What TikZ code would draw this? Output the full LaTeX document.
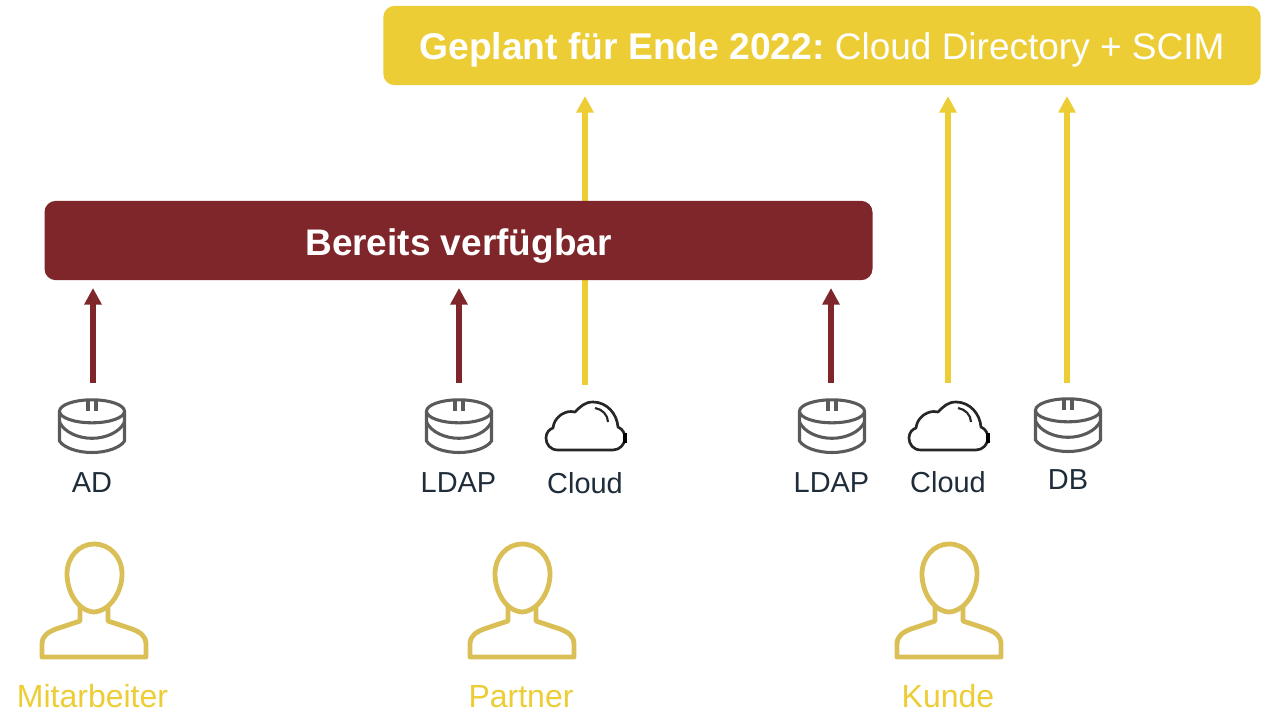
\documentclass[tikz,border=0pt]{standalone}
\usepackage{fontspec}
\setmainfont{Liberation Sans}
\usetikzlibrary{arrows.meta}
\definecolor{ygold}{HTML}{EDCD35}
\definecolor{maroon}{HTML}{7E2629}
\definecolor{inktext}{HTML}{1F2D3A}
\definecolor{persongold}{HTML}{D9BF55}
\definecolor{dbgray}{HTML}{5A5A5A}
\tikzset{
  x=.75pt,y=-.75pt,
  banner/.style={rounded corners=8.5pt,inner sep=0pt,text=white,anchor=center},
  ylink/.style={draw=ygold,line width=4.7pt,-{Triangle[length=12.5pt,width=12.5pt]}},
  mlink/.style={draw=maroon,line width=4.7pt,-{Triangle[length=12.5pt,width=12.5pt]}},
  iconlabel/.style={text=inktext,font=\fontsize{21.7}{24}\selectfont,inner sep=0pt,anchor=center},
  grouplabel/.style={text=ygold,font=\fontsize{24}{26}\selectfont,inner sep=0pt,anchor=center},
  pics/dbicon/.style={code={
    \begin{scope}[draw=dbgray]
      \draw[line width=2.3pt] (0,-2.7) ellipse[x radius=32.5,y radius=11.5];
      \draw[line width=2.3pt] (-32.5,-2.7) -- (-32.5,27) .. controls (-28,34) and (-14,38.5) .. (0,38.5) .. controls (14,38.5) and (28,34) .. (32.5,27) -- (32.5,-2.7);
      \draw[line width=2.3pt] (-32.5,8) .. controls (-28,18) and (-14,24.3) .. (0,24.3) .. controls (14,24.3) and (28,18) .. (32.5,8);
      \draw[line width=2.3pt] (-4,-14) -- (-4,-3.5) (4,-14) -- (4,-3.5);
    \end{scope}}},
  pics/cloudicon/.style={code={
    \draw[black!85,line width=2pt,line join=round]
      (-27,24) .. controls (-35,24) and (-39,18) .. (-39,12)
      .. controls (-39,6) and (-35,3) .. (-32,2)
      .. controls (-31,-8) and (-22,-14.5) .. (-14,-14.5)
      -- (-10,-14)
      .. controls (-4,-20) and (0,-24) .. (8,-24)
      .. controls (22,-24) and (32,-12) .. (33,1)
      .. controls (38,3) and (40,8) .. (40,12)
      .. controls (40,18) and (35,24) .. (28,24) -- cycle;
    \draw[black!85,line width=1.6pt] (10,-18) .. controls (17,-17) and (23,-11) .. (23,-4);
    \fill[black] (38,7) rectangle (42,17);}},
  pics/personicon/.style={code={
    \draw[persongold,line width=3.6pt,line join=round]
      (0,-58) .. controls (16,-58) and (28,-45) .. (28,-28)
      .. controls (28,-10) and (16,9) .. (0,10)
      .. controls (-16,9) and (-27,-10) .. (-27,-28)
      .. controls (-27,-45) and (-15,-58) .. (0,-58) -- cycle;
    \draw[persongold,line width=3.6pt,line join=round]
      (-14,4) -- (-14,19) -- (-38,27) .. controls (-46,30) and (-52,34) .. (-52,42) -- (-52,55)
      -- (52,55) -- (52,42) .. controls (52,34) and (46,30) .. (38,27) -- (14,19) -- (14,4);}}
}
\begin{document}
\begin{tikzpicture}
\useasboundingbox (0,0) rectangle (1268,711);
% yellow links go behind the maroon banner
\coordinate (tipA) at (585,96);
\coordinate (tipB) at (948,96);
\coordinate (tipC) at (1067,96);
\coordinate (tailA) at (585,385);
\coordinate (tailB) at (948,383);
\coordinate (tailC) at (1067,383);
\coordinate (tailD) at (93,383);
\coordinate (tailE) at (459,383);
\coordinate (tailF) at (831,383);
\coordinate (tipD) at (93,288);
\coordinate (tipE) at (459,288);
\coordinate (tipF) at (831,288);

\draw[ylink] (tailA) -- (tipA);
\draw[ylink] (tailB) -- (tipB);
\draw[ylink] (tailC) -- (tipC);

\node[banner,fill=ygold,minimum width=658pt,minimum height=59.5pt] (planned) at (822,45.5) {};
\node[text=white,inner sep=0pt,font=\fontsize{27.75}{30}\selectfont] (plannedtext) at (822,50) {{\fontsize{27.9}{30}\selectfont\textbf{Geplant für Ende 2022:}} \hspace{-2.6pt}Cloud Directory + SCIM};
\node[banner,fill=maroon,minimum width=621pt,minimum height=59.5pt] (ready) at (458.5,240.5) {};
\node[text=white,inner sep=0pt,font=\fontsize{27.75}{30}\selectfont\bfseries] (readytext) at (458.5,246) {Bereits verfügbar};

\draw[mlink] (tailD) -- (tipD);
\draw[mlink] (tailE) -- (tipE);
\draw[mlink] (tailF) -- (tipF);

\pic at (92,414) {dbicon};
\pic at (459,414) {dbicon};
\pic at (832,414) {dbicon};
\pic at (1068,413) {dbicon};
\pic at (585,426) {cloudicon};
\pic at (948,426) {cloudicon};

\node[iconlabel] (adlabel) at (92,482.5) {AD};
\node[iconlabel] (ldapa) at (458.5,482.5) {LDAP};
\node[iconlabel] (clouda) at (585,483.5) {Cloud};
\node[iconlabel] (ldapb) at (831.5,482.5) {LDAP};
\node[iconlabel] (cloudb) at (948,482.5) {Cloud};
\node[iconlabel] (dblabel) at (1068,479.5) {DB};

\pic at (94,602) {personicon};
\pic at (522,602) {personicon};
\pic at (949,602) {personicon};

\node[grouplabel] (mit) at (92.5,696) {Mitarbeiter};
\node[grouplabel] (par) at (521,697) {Partner};
\node[grouplabel] (kun) at (948,696) {Kunde};
\end{tikzpicture}
\end{document}
